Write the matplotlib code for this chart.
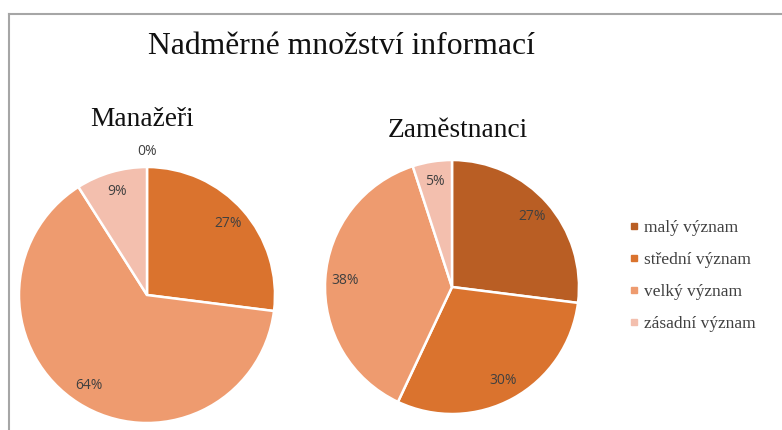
import matplotlib
matplotlib.use("Agg")
import matplotlib.pyplot as plt
from matplotlib.lines import Line2D
import numpy as np

W, H = 782, 430

title = "Nadměrné množství informací"
categories = ["malý význam", "střední význam", "velký význam", "zásadní význam"]
groups = ["Manažeři", "Zaměstnanci"]
managers = [0, 27, 64, 9]
employees = [27, 30, 38, 5]
colors = ["#B95E24", "#DA732E", "#EE9B6F", "#F3BFAE"]

fig = plt.figure(figsize=(W / 100, H / 100), dpi=100)
fig.patch.set_facecolor("white")

def px_axes(cx, cy, r):
    return fig.add_axes([(cx - r) / W, (H - cy - r) / H, 2 * r / W, 2 * r / H])

serif = ["Liberation Serif", "DejaVu Serif"]
sans = ["Open Sans", "DejaVu Sans"]

def draw_pie(ax, values, name, title_xy):
    wedges, texts = ax.pie(values, colors=colors, startangle=90, counterclock=False,
                           radius=1.0,
                           wedgeprops=dict(edgecolor="white", linewidth=1.8),
                           labels=[f"{v}%" for v in values], labeldistance=0.84,
                           textprops=dict(fontsize=10, color="#404040", family=sans))
    for t, v, w in zip(texts, values, wedges):
        t.set_ha("center"); t.set_va("center")
        if v == 0:
            ang = np.deg2rad((w.theta1 + w.theta2) / 2)
            t.set_position((1.12 * np.cos(ang), 1.12 * np.sin(ang)))
    ax.set_xlim(-1, 1); ax.set_ylim(-1, 1)
    ax.set_aspect("equal")
    ax.axis("off")
    fig.text(title_xy[0] / W, 1 - title_xy[1] / H, name, ha="center", va="center",
             fontsize=19.7, family=serif, color="#111111")

ax1 = px_axes(147, 295, 128)
draw_pie(ax1, managers, groups[0], (142, 119))
ax2 = px_axes(452, 287, 127)
draw_pie(ax2, employees, groups[1], (458, 131))

fig.text(341 / W, 1 - 47 / H, title, ha="center", va="center",
         fontsize=22.8, family=serif, color="#111111")

# frame lines
fig.add_artist(Line2D([9 / W, 1], [1 - 14 / H, 1 - 14 / H], color="#A6A6A6", linewidth=1.5,
                      transform=fig.transFigure))
fig.add_artist(Line2D([9 / W, 9 / W], [0, 1 - 14 / H], color="#A6A6A6", linewidth=1.5,
                      transform=fig.transFigure))

handles = [Line2D([], [], marker="s", linestyle="none", markersize=5,
                  markerfacecolor=c, markeredgecolor=c) for c in colors]
fig.legend(handles, categories, loc="center left",
           bbox_to_anchor=(621 / W, 1 - 276 / H), frameon=False,
           prop=dict(family=serif, size=12.5), handlelength=0.55, handletextpad=0.3,
           labelspacing=0.92, borderpad=0, labelcolor="#404040")

fig.savefig("out.png", dpi=100, facecolor="white")
